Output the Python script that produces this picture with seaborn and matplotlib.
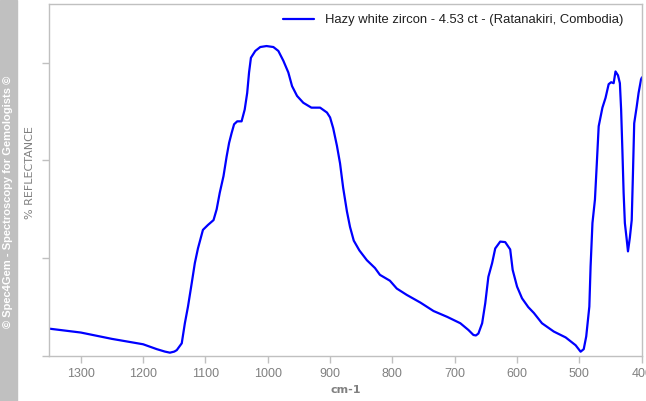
import pandas as pd
import seaborn as sns
from matplotlib import pyplot as plt

# reflectance spectrum
wavenumber = [1351, 1300, 1250, 1200, 1178, 1165, 1157, 1150, 1146, 1138, 1133, 1128,
              1122, 1117, 1112, 1104, 1096, 1087, 1082, 1077, 1071, 1066, 1062, 1058,
              1054, 1049, 1042, 1037, 1033, 1030, 1027, 1020, 1012, 1002, 991, 983,
              975, 967, 961, 953, 943, 930, 916, 905, 900, 895, 889, 884, 879, 873,
              868, 862, 853, 841, 828, 820, 804, 793, 777, 755, 734, 712, 691, 678,
              670, 666, 662, 656, 651, 646, 640, 635, 627, 619, 611, 607, 600, 592,
              582, 573, 560, 541, 522, 506, 498, 493, 489, 484, 482, 479, 475, 472,
              469, 463, 458, 453, 449, 445, 442, 438, 435, 433, 431, 429, 427, 424,
              422, 419, 416, 414, 412, 408, 405, 401, 399.5]
reflectance = [0.28, 0.24, 0.175, 0.12, 0.07, 0.045, 0.034, 0.045, 0.06, 0.13, 0.335, 0.505,
               0.745, 0.95, 1.10, 1.29, 1.34, 1.39, 1.50, 1.67, 1.84, 2.04, 2.18, 2.28,
               2.37, 2.40, 2.40, 2.52, 2.69, 2.90, 3.05, 3.12, 3.16, 3.17, 3.16, 3.12,
               3.02, 2.90, 2.76, 2.66, 2.59, 2.54, 2.54, 2.49, 2.44, 2.33, 2.15, 1.97, 1.72, 1.48,
               1.32, 1.18, 1.08, 0.98, 0.90, 0.83, 0.77, 0.69, 0.625, 0.546, 0.46, 0.40, 0.335, 0.266,
               0.215, 0.21, 0.23, 0.335, 0.54, 0.81, 0.95, 1.10, 1.17, 1.165, 1.09, 0.88, 0.71, 0.59,
               0.50, 0.44, 0.335, 0.25, 0.19, 0.11, 0.044, 0.07, 0.20, 0.505, 0.915, 1.36, 1.60, 1.97,
               2.35, 2.54, 2.64, 2.78, 2.80, 2.79, 2.91, 2.87, 2.79, 2.52, 2.11, 1.67, 1.36, 1.19,
               1.07, 1.21, 1.39, 1.87, 2.38, 2.55, 2.69, 2.83, 2.85]
x_ticks = [1300, 1200, 1100, 1000, 900, 800, 700, 600, 500, 400]
y_ticks = [0, 1, 2, 3]
series_name = "Hazy white zircon - 4.53 ct - (Ratanakiri, Combodia)"

df = pd.DataFrame({"cm-1": wavenumber, "reflectance": reflectance, "sample": series_name})

sns.set_style("white")
plt.rcParams['font.family'] = ['Liberation Sans', 'DejaVu Sans']

fig = plt.figure(figsize=(6.46, 4.01), dpi=100)
ax = fig.add_axes([49 / 646, 45 / 401, 593 / 646, 352 / 401])

sns.lineplot(data=df, x="cm-1", y="reflectance", hue="sample", palette=["#0000ff"],
             sort=False, linewidth=1.6, ax=ax)

ax.set_xlim(1351, 399.5)
ax.set_ylim(0, 3.6)
ax.set_xticks(x_ticks)
ax.set_yticks(y_ticks)
ax.set_yticklabels([])
ax.tick_params(axis='both', direction='out', length=5, width=1, color='#c0c0c0',
               labelcolor='#808080', labelsize=9, left=True, bottom=True)
for s in ax.spines.values():
    s.set_color('#c0c0c0')
    s.set_linewidth(1)

ax.set_xlabel("cm-1", fontsize=8, fontweight='bold', color='#808080', family='DejaVu Sans')
ax.set_ylabel("")
fig.text(30 / 646, 1 - 173 / 401, "% REFLECTANCE", rotation=90, ha='center', va='center',
         fontsize=8, color='#808080', family='DejaVu Sans')

# grey copyright band on the left
fig.patches.append(plt.Rectangle((0, 0), 17 / 646, 1, transform=fig.transFigure,
                                 color='#c0c0c0', zorder=0))
fig.text(8.5 / 646, 1 - 202 / 401, "© Spec4Gem - Spectroscopy for Gemologists ©",
         rotation=90, ha='center', va='center', fontsize=8, fontweight='bold',
         color='white')

leg = ax.legend(loc='upper right', bbox_to_anchor=(623 / 646, 1 - 14 / 401),
                bbox_transform=fig.transFigure, frameon=False, fontsize=9.4,
                handlelength=2.4, borderpad=0, borderaxespad=0, handletextpad=0.8)
for t in leg.get_texts():
    t.set_color('#202020')

fig.savefig("out.png", dpi=100)
